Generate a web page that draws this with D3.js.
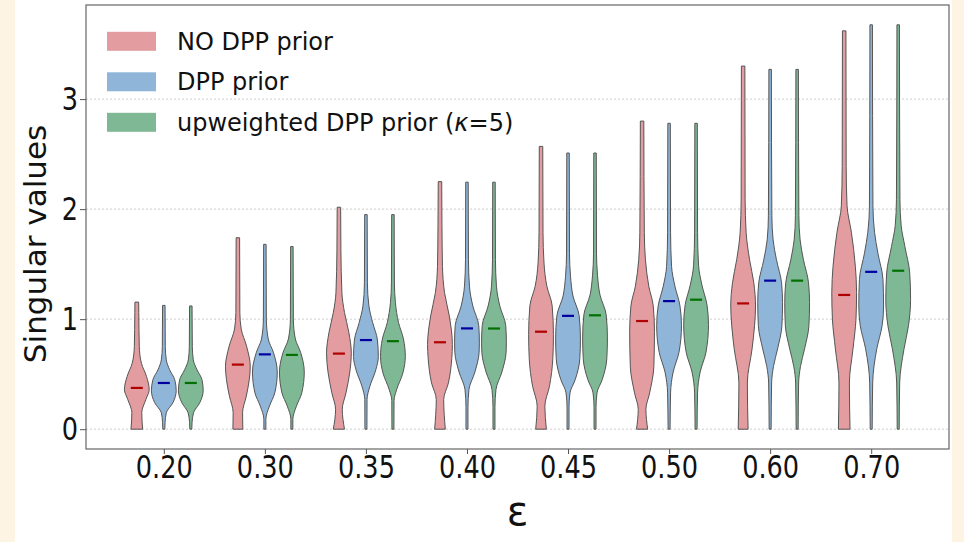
<!DOCTYPE html>
<html>
<head>
<meta charset="utf-8">
<script src="https://cdn.jsdelivr.net/npm/d3@7"></script>
<style>
  html, body { margin: 0; padding: 0; background: #fdf4e3; }
  svg { display: block; font-family: "DejaVu Sans", sans-serif; }
</style>
</head>
<body>
<svg id="chart" width="964" height="542"></svg>
<script>
// ---------------- data ----------------
const categories = ["0.20", "0.30", "0.35", "0.40", "0.45", "0.50", "0.60", "0.70"];
const series = ["NO DPP prior", "DPP prior", "upweighted DPP prior (κ=5)"];
const yTicks = [0, 1, 2, 3];

// mean (short line) of each violin, per category
const meansNoDPP = [0.375, 0.587, 0.687, 0.79, 0.886, 0.983, 1.143, 1.22];
const meansDPP   = [0.42, 0.68, 0.81, 0.916, 1.03, 1.164, 1.35, 1.43];
const meansUp    = [0.42, 0.675, 0.80, 0.915, 1.035, 1.177, 1.35, 1.44];

// density profiles: [value, relative half-width], from min (0) to max
const profilesNoDPP = [
  [[0,0.47],[0.15,0.4],[0.27,0.73],[0.36,1],[0.48,0.78],[0.6,0.37],[0.75,0.2],[1.06,0.16],[1.155,0.15]],
  [[0,0.4],[0.15,0.38],[0.30,0.68],[0.45,0.92],[0.57,1],[0.755,0.7],[0.91,0.27],[1.06,0.16],[1.74,0.14]],
  [[0,0.45],[0.18,0.27],[0.33,0.57],[0.52,0.88],[0.69,1],[0.88,0.8],[1.06,0.45],[1.24,0.24],[1.63,0.16],[2.017,0.14]],
  [[0,0.43],[0.27,0.3],[0.42,0.68],[0.64,0.95],[0.77,1],[1.03,0.75],[1.24,0.37],[1.48,0.2],[1.85,0.16],[2.25,0.14]],
  [[0,0.43],[0.21,0.31],[0.39,0.68],[0.64,0.95],[0.86,1],[1.12,0.9],[1.3,0.47],[1.51,0.24],[1.79,0.16],[2.57,0.14]],
  [[0,0.45],[0.18,0.31],[0.33,0.61],[0.57,0.95],[0.89,1],[1.12,0.9],[1.3,0.54],[1.54,0.27],[1.79,0.18],[2.80,0.14]],
  [[0,0.4],[0.42,0.34],[0.73,0.72],[0.94,0.92],[1.12,1],[1.33,0.86],[1.54,0.52],[1.79,0.24],[2.09,0.16],[3.30,0.14]],
  [[0,0.47],[0.42,0.42],[0.73,0.71],[1.0,0.95],[1.24,1],[1.48,0.9],[1.79,0.58],[2.03,0.23],[2.39,0.16],[3.62,0.14]]
];
const profilesDPP = [
  [[0,0.08],[0.06,0.1],[0.15,0.2],[0.24,0.73],[0.35,1],[0.45,0.88],[0.54,0.47],[0.63,0.2],[0.75,0.12],[1.125,0.1]],
  [[0,0.08],[0.09,0.08],[0.21,0.37],[0.33,0.8],[0.52,1],[0.70,0.68],[0.82,0.27],[1.0,0.12],[1.68,0.1]],
  [[0,0.08],[0.27,0.09],[0.39,0.32],[0.54,0.8],[0.66,1],[0.81,0.93],[0.97,0.54],[1.12,0.24],[1.33,0.12],[1.95,0.1]],
  [[0,0.08],[0.2,0.08],[0.36,0.16],[0.52,0.64],[0.70,0.98],[0.79,1],[0.94,0.95],[1.12,0.47],[1.3,0.2],[1.54,0.12],[2.245,0.1]],
  [[0,0.08],[0.2,0.08],[0.33,0.16],[0.45,0.58],[0.64,0.95],[0.82,1],[1.03,0.9],[1.21,0.4],[1.39,0.2],[1.6,0.12],[2.51,0.1]],
  [[0,0.08],[0.33,0.12],[0.52,0.33],[0.70,0.8],[0.94,1],[1.12,0.88],[1.3,0.47],[1.48,0.2],[1.79,0.12],[2.78,0.1]],
  [[0,0.08],[0.42,0.12],[0.57,0.27],[0.73,0.6],[0.94,0.95],[1.15,1],[1.33,0.92],[1.54,0.51],[1.72,0.24],[1.94,0.14],[3.27,0.1]],
  [[0,0.08],[0.42,0.12],[0.73,0.45],[0.94,0.88],[1.12,1],[1.36,0.95],[1.6,0.54],[1.79,0.27],[2.03,0.14],[3.675,0.1]]
];
const profilesUp = [
  [[0,0.08],[0.06,0.1],[0.15,0.22],[0.24,0.72],[0.35,1],[0.45,0.9],[0.54,0.5],[0.63,0.2],[0.75,0.12],[1.12,0.1]],
  [[0,0.08],[0.09,0.08],[0.21,0.37],[0.33,0.8],[0.52,1],[0.70,0.7],[0.82,0.28],[1.0,0.12],[1.66,0.1]],
  [[0,0.08],[0.26,0.09],[0.36,0.3],[0.51,0.8],[0.66,1],[0.82,0.85],[0.97,0.45],[1.15,0.2],[1.33,0.12],[1.95,0.1]],
  [[0,0.08],[0.2,0.08],[0.36,0.16],[0.52,0.64],[0.70,0.98],[0.79,1],[0.94,0.95],[1.12,0.47],[1.3,0.2],[1.54,0.12],[2.245,0.1]],
  [[0,0.08],[0.2,0.08],[0.33,0.16],[0.45,0.58],[0.64,0.95],[0.83,1],[1.04,0.9],[1.22,0.4],[1.4,0.2],[1.6,0.12],[2.51,0.1]],
  [[0,0.08],[0.33,0.12],[0.52,0.33],[0.70,0.8],[0.95,1],[1.13,0.88],[1.31,0.47],[1.49,0.2],[1.79,0.12],[2.78,0.1]],
  [[0,0.08],[0.42,0.12],[0.57,0.27],[0.73,0.6],[0.94,0.95],[1.15,1],[1.33,0.92],[1.54,0.51],[1.72,0.24],[1.94,0.14],[3.27,0.1]],
  [[0,0.08],[0.42,0.12],[0.73,0.47],[0.94,0.83],[1.18,1],[1.42,0.93],[1.66,0.54],[1.85,0.24],[2.09,0.14],[3.675,0.1]]
];

const profiles = [profilesNoDPP, profilesDPP, profilesUp];
const means = [meansNoDPP, meansDPP, meansUp];

// ---------------- styles ----------------
const fillColors = ["#e39ca0", "#8fb5d9", "#7fb894"];
const meanColors = ["#b00000", "#0000a0", "#007000"];

// ---------------- layout ----------------
const svg = d3.select("#chart");
const W = 964, H = 542;
const plot = { left: 86, right: 949, top: 5, bottom: 449 };

svg.append("rect").attr("x", 0).attr("y", 0).attr("width", W).attr("height", H).attr("fill", "#fdf4e3");
svg.append("rect").attr("x", 15).attr("y", 0).attr("width", 937).attr("height", H).attr("fill", "#ffffff");

const x = d3.scalePoint().domain(categories).range([plot.left, plot.right]).padding(0.77);
const hue = d3.scaleBand().domain(series).range([-40.5, 40.5]);
const y = d3.scaleLinear().domain([-0.18, 3.855]).range([plot.bottom, plot.top]);
const wScale = d3.scaleLinear().domain([0, 1]).range([0, 12.4]);

// grid
svg.append("g").selectAll("line").data(yTicks).join("line")
  .attr("x1", plot.left).attr("x2", plot.right)
  .attr("y1", d => y(d)).attr("y2", d => y(d))
  .attr("stroke", "#cfcfcf").attr("stroke-width", 1).attr("stroke-dasharray", "2,2");

// violins
const gV = svg.append("g");
series.forEach((s, si) => {
  categories.forEach((c, ci) => {
    const cx = x(c) + hue(s) + hue.bandwidth() / 2;
    const area = d3.area()
      .y(d => y(d[0]))
      .x0(d => cx - wScale(d[1]))
      .x1(d => cx + wScale(d[1]))
      .curve(d3.curveMonotoneY);
    gV.append("path")
      .attr("d", area(profiles[si][ci]))
      .attr("fill", fillColors[si])
      .attr("stroke", "#555555")
      .attr("stroke-width", 1);
    gV.append("line")
      .attr("x1", cx - 6).attr("x2", cx + 6)
      .attr("y1", y(means[si][ci])).attr("y2", y(means[si][ci]))
      .attr("stroke", meanColors[si]).attr("stroke-width", 2.2);
  });
});

// frame
svg.append("rect")
  .attr("x", plot.left).attr("y", plot.top)
  .attr("width", plot.right - plot.left).attr("height", plot.bottom - plot.top)
  .attr("fill", "none").attr("stroke", "#666").attr("stroke-width", 1.2);

// axes
const xAxis = svg.append("g").attr("transform", `translate(0,${plot.bottom})`)
  .call(d3.axisBottom(x).tickSize(5).tickPadding(1));
xAxis.select(".domain").remove();
xAxis.selectAll("line").attr("stroke", "#555");
xAxis.selectAll("text").attr("font-size", 32).attr("fill", "#111")
  .attr("font-family", "DejaVu Sans").attr("transform", "scale(0.8,1)");

const yAxis = svg.append("g").attr("transform", `translate(${plot.left},0)`)
  .call(d3.axisLeft(y).tickValues(yTicks).tickFormat(d3.format("d")).tickSize(6).tickPadding(4));
yAxis.select(".domain").remove();
yAxis.selectAll("line").attr("stroke", "#555");
yAxis.selectAll("text").attr("font-size", 32).attr("fill", "#111")
  .attr("font-family", "DejaVu Sans").attr("transform", "scale(0.8,1)");

// axis labels
svg.append("text")
  .attr("transform", `translate(46,244) rotate(-90)`)
  .attr("text-anchor", "middle").attr("font-size", 31).attr("fill", "#111")
  .text("Singular values");
svg.append("text")
  .attr("x", (plot.left + plot.right) / 2).attr("y", 525)
  .attr("text-anchor", "middle").attr("font-size", 40).attr("fill", "#111")
  .text("ε");

// legend
const legend = svg.append("g");
series.forEach((s, i) => {
  const cy = 41.3 + i * 40.5;
  legend.append("rect")
    .attr("x", 107).attr("y", cy - 9.5).attr("width", 49).attr("height", 19)
    .attr("fill", fillColors[i]);
  const t = legend.append("text")
    .attr("x", 177).attr("y", cy).attr("dy", "0.36em")
    .attr("font-size", 24).attr("fill", "#111");
  const parts = s.split("κ");
  t.append("tspan").text(parts[0]);
  if (parts.length > 1) {
    t.append("tspan").attr("font-style", "italic").text("κ");
    t.append("tspan").text(parts[1]);
  }
});
</script>
</body>
</html>
